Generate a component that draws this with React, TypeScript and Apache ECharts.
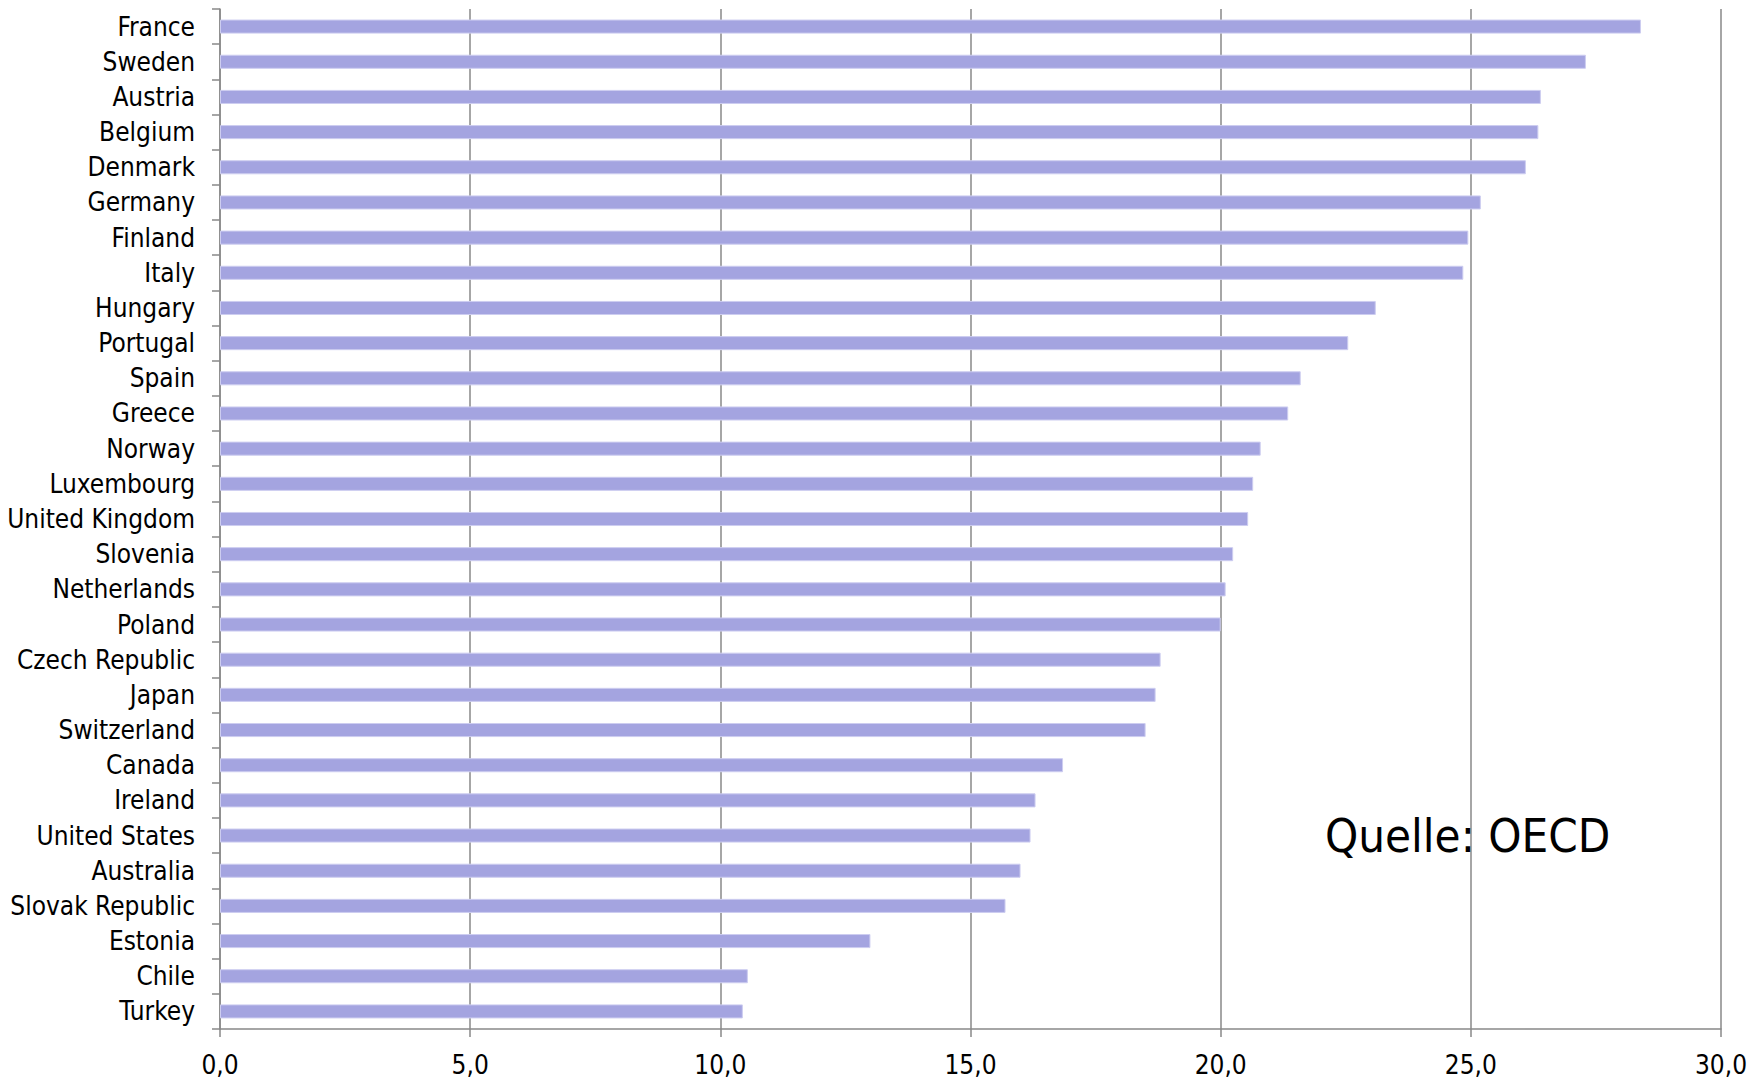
import React, { useEffect, useRef } from "react";
import * as echarts from "echarts";

// Countries, top to bottom
const countries = [
  "France", "Sweden", "Austria", "Belgium", "Denmark", "Germany", "Finland", "Italy",
  "Hungary", "Portugal", "Spain", "Greece", "Norway", "Luxembourg", "United Kingdom",
  "Slovenia", "Netherlands", "Poland", "Czech Republic", "Japan", "Switzerland", "Canada",
  "Ireland", "United States", "Australia", "Slovak Republic", "Estonia", "Chile", "Turkey",
];

// Value per country (percent)
const values = [
  28.4, 27.3, 26.4, 26.35, 26.1, 25.2, 24.95, 24.85,
  23.1, 22.55, 21.6, 21.35, 20.8, 20.65, 20.55,
  20.25, 20.1, 20.0, 18.8, 18.7, 18.5, 16.85,
  16.3, 16.2, 16.0, 15.7, 13.0, 10.55, 10.45,
];

const axisMin = 0;
const axisMax = 30;
const axisStep = 5;
const sourceNote = "Quelle: OECD";

const FONT = "'DejaVu Sans Condensed', 'Liberation Sans', sans-serif";
const GRAY = "#888888";

export default function App() {
  const ref = useRef<HTMLDivElement>(null);

  useEffect(() => {
    document.body.style.margin = "0";
    const chart = echarts.init(ref.current!, null, { renderer: "svg" });
    chart.setOption({
      animation: false,
      backgroundColor: "#ffffff",
      grid: { left: 220, right: 42, top: 9, bottom: 52, containLabel: false },
      xAxis: {
        type: "value",
        min: axisMin,
        max: axisMax,
        interval: axisStep,
        axisLine: { show: true, lineStyle: { color: GRAY, width: 1.5 } },
        axisTick: { show: true, length: 8, lineStyle: { color: GRAY, width: 1.5 } },
        splitLine: { show: true, lineStyle: { color: GRAY, width: 1.5 } },
        axisLabel: {
          margin: 23,
          fontSize: 26,
          fontFamily: FONT,
          color: "#000000",
          formatter: (v: number) => v.toFixed(1).replace(".", ","),
        },
      },
      yAxis: {
        type: "category",
        data: countries,
        inverse: true,
        axisLine: { show: true, lineStyle: { color: GRAY, width: 1.5 } },
        axisTick: { show: true, length: 8, lineStyle: { color: GRAY, width: 1.5 } },
        splitLine: { show: false },
        axisLabel: {
          margin: 25,
          fontSize: 26,
          fontFamily: FONT,
          color: "#000000",
          interval: 0,
        },
      },
      series: [
        {
          type: "bar",
          data: values,
          barWidth: "40%",
          itemStyle: { color: "#a4a4e0", borderColor: "#cdcdf0", borderWidth: 1 },
        },
      ],
      graphic: [
        {
          type: "text",
          x: 1325,
          y: 835,
          style: {
            text: sourceNote,
            fontSize: 47,
            fontFamily: FONT,
            fill: "#000000",
            verticalAlign: "middle",
          },
          z: 100,
        },
      ],
    });
    return () => chart.dispose();
  }, []);

  return <div ref={ref} style={{ width: 1763, height: 1081 }} />;
}
